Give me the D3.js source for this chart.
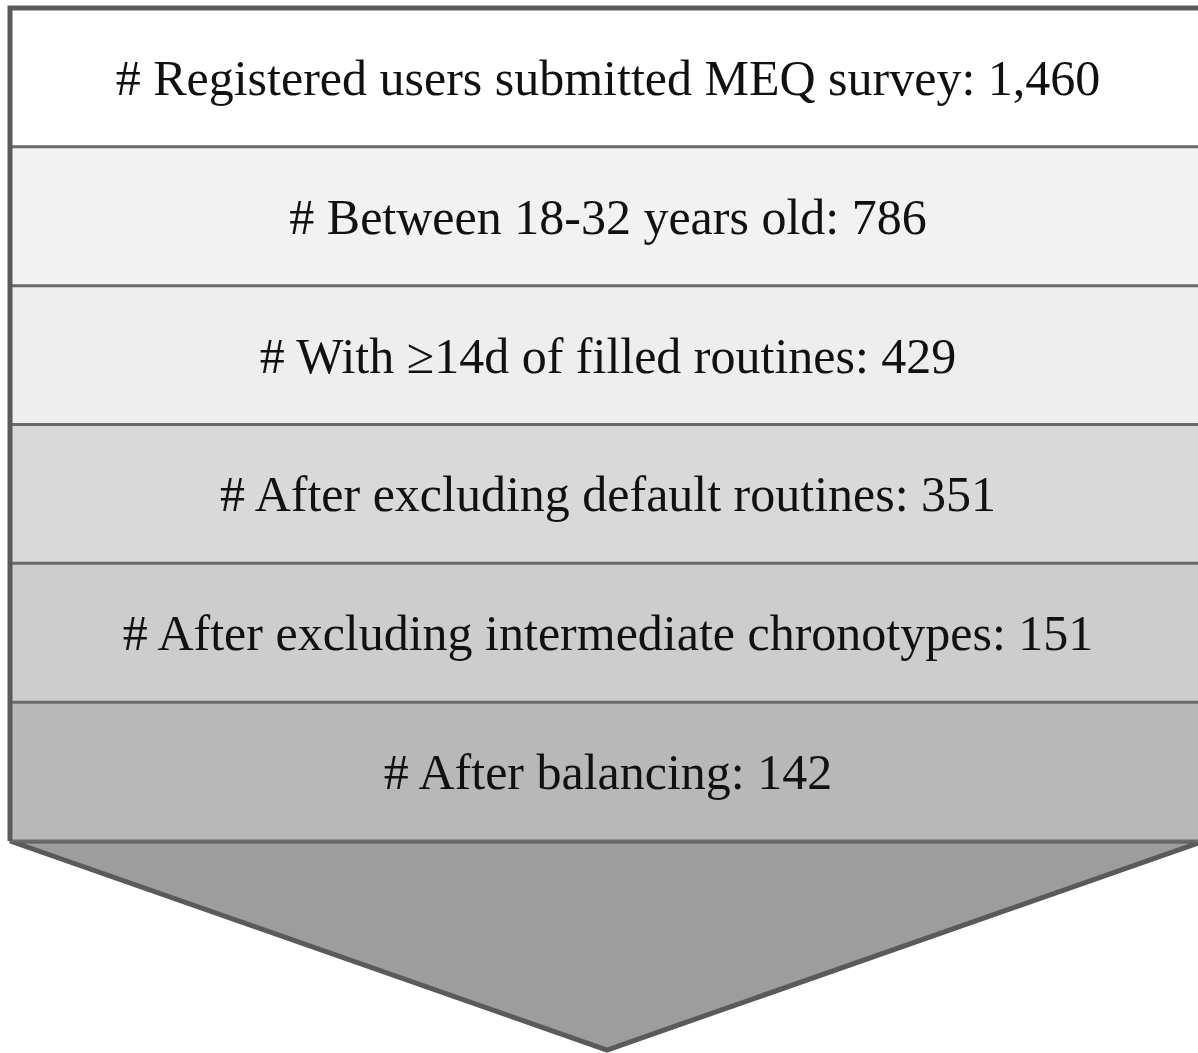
<!DOCTYPE html>
<html>
<head>
<meta charset="utf-8">
<script src="https://cdn.jsdelivr.net/npm/d3@7"></script>
<style>
  body { margin: 0; background: #fff; overflow: hidden; }
  svg { display: block; }
  .step text { font-family: "Liberation Serif", "Times New Roman", serif; fill: #111; }
</style>
</head>
<body>
<svg id="funnel"></svg>
<script>
// funnel steps, top to bottom
var steps = [
  "Registered users submitted MEQ survey",
  "Between 18-32 years old",
  "With \u226514d of filled routines",
  "After excluding default routines",
  "After excluding intermediate chronotypes",
  "After balancing"
];
var counts = [1460, 786, 429, 351, 151, 142];
var fills = ["#ffffff", "#f2f2f2", "#eeeeee", "#d9d9d9", "#cdcdcd", "#b8b8b8"];
var arrowFill = "#9d9d9d";

var width = 1198, height = 1053;

var svg = d3.select("#funnel")
  .attr("width", width)
  .attr("height", height);

// shape spans a bit past the right edge of the picture (it was cropped)
var boxLeft = 10, boxRight = 1204, boxTop = 8, rowsBottom = 841, tipY = 1050;
var cx = (boxLeft + boxRight) / 2;

var y = d3.scaleBand()
  .domain(d3.range(steps.length))
  .range([boxTop, rowsBottom])
  .paddingInner(0);

var fmt = d3.format(",");

// arrow head below the rows
svg.append("path")
  .attr("d", "M" + boxLeft + "," + rowsBottom + "L" + boxRight + "," + rowsBottom +
             "L" + cx + "," + tipY + "Z")
  .attr("fill", arrowFill)
  .attr("stroke", "#5a5a5a")
  .attr("stroke-width", 5)
  .attr("stroke-linejoin", "miter");

var g = svg.selectAll("g.step")
  .data(steps)
  .enter().append("g")
  .attr("class", "step")
  .attr("transform", function(d, i) { return "translate(0," + y(i) + ")"; });

g.append("rect")
  .attr("x", boxLeft)
  .attr("width", boxRight - boxLeft)
  .attr("height", y.bandwidth())
  .attr("fill", function(d, i) { return fills[i]; });

// dividers between rows
g.filter(function(d, i) { return i > 0; })
  .append("line")
  .attr("x1", boxLeft).attr("x2", boxRight)
  .attr("y1", 0).attr("y2", 0)
  .attr("stroke", "#6a6a6a")
  .attr("stroke-width", 3);

svg.append("line")
  .attr("x1", boxLeft).attr("x2", boxRight)
  .attr("y1", rowsBottom).attr("y2", rowsBottom)
  .attr("stroke", "#6a6a6a")
  .attr("stroke-width", 3);

g.append("text")
  .attr("x", 608)
  .attr("y", y.bandwidth() / 2)
  .attr("dy", "0.35em")
  .attr("text-anchor", "middle")
  .style("font-size", "50px")
  .text(function(d, i) { return "# " + d + ": " + fmt(counts[i]); });

// outer border: top and left side
svg.append("path")
  .attr("d", "M" + boxLeft + "," + rowsBottom + "L" + boxLeft + "," + boxTop + "L" + boxRight + "," + boxTop)
  .attr("fill", "none")
  .attr("stroke", "#5a5a5a")
  .attr("stroke-width", 5);
</script>
</body>
</html>
